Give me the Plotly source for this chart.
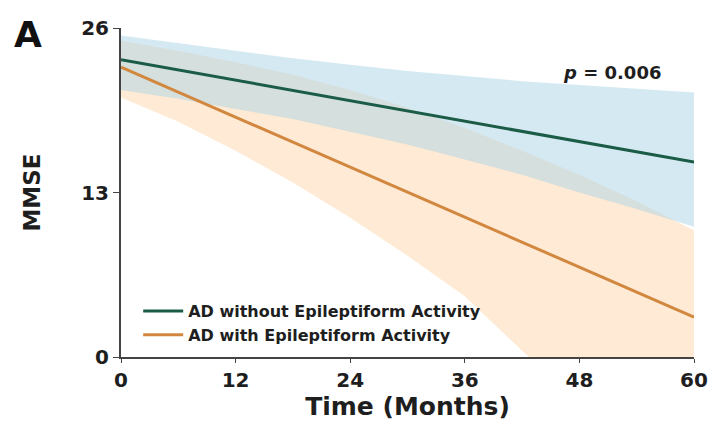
import plotly.graph_objects as go

band_months = [0, 6, 12, 18, 24, 30, 36, 42, 48, 54, 60]
line_months = [0, 60]
x_ticks = [0, 12, 24, 36, 48, 60]
y_ticks = [0, 13, 26]

no_epi_mean = [23.5, 15.4]
no_epi_upper = [25.4, 24.8, 24.2, 23.6, 23.1, 22.6, 22.2, 21.8, 21.5, 21.2, 20.9]
no_epi_lower = [21.1, 20.4, 19.6, 18.8, 17.8, 16.8, 15.6, 14.4, 13.0, 11.7, 10.3]

epi_mean = [22.9, 3.15]
epi_upper = [25.0, 24.2, 23.3, 22.3, 21.1, 19.7, 18.1, 16.3, 14.4, 12.3, 10.0]
epi_lower = [20.5, 18.6, 16.3, 13.8, 11.0, 8.0, 4.8, 0.5, -3.5, -7.5, -12.0]

names = ["AD without Epileptiform Activity", "AD with Epileptiform Activity"]

FONT = "DejaVu Sans, Arial, sans-serif"
TXT = "#1e1e1e"

fig = go.Figure()

# confidence bands
fig.add_trace(go.Scatter(x=band_months, y=epi_lower, mode="lines", line=dict(width=0),
                         showlegend=False, hoverinfo="skip"))
fig.add_trace(go.Scatter(x=band_months, y=epi_upper, mode="lines", line=dict(width=0),
                         fill="tonexty", fillcolor="rgba(253,214,172,0.5)",
                         showlegend=False, hoverinfo="skip"))
fig.add_trace(go.Scatter(x=band_months, y=no_epi_lower, mode="lines", line=dict(width=0),
                         showlegend=False, hoverinfo="skip"))
fig.add_trace(go.Scatter(x=band_months, y=no_epi_upper, mode="lines", line=dict(width=0),
                         fill="tonexty", fillcolor="rgba(172,212,230,0.5)",
                         showlegend=False, hoverinfo="skip"))

# mean lines
fig.add_trace(go.Scatter(x=line_months, y=no_epi_mean, mode="lines", name=names[0],
                         legendgroup="g1",
                         line=dict(color="#1b5c46", width=3)))
fig.add_trace(go.Scatter(x=line_months, y=epi_mean, mode="lines", name=names[1],
                         legendgroup="g2",
                         line=dict(color="#d2873f", width=3)))

fig.update_layout(
    width=724, height=421,
    margin=dict(l=121, r=30, t=28, b=64),
    paper_bgcolor="white", plot_bgcolor="white",
    font=dict(family=FONT, color=TXT),
    showlegend=True,
    legend=dict(x=0.03, y=0.015, xanchor="left", yanchor="bottom",
                traceorder="normal", tracegroupgap=13,
                bgcolor="rgba(0,0,0,0)", itemwidth=40,
                font=dict(family=FONT, size=16, weight="bold", color=TXT)),
    xaxis=dict(range=[0, 60], tickvals=x_ticks, showgrid=False, zeroline=False,
               showline=True, linecolor="#444444", linewidth=2, automargin=False,
               ticks="outside", ticklen=4, tickcolor="#444444",
               tickfont=dict(family=FONT, size=20, weight="bold", color=TXT),
               title=dict(text="Time (Months)", standoff=4,
                          font=dict(family=FONT, size=25, weight="bold", color=TXT))),
    yaxis=dict(range=[0, 26], tickvals=y_ticks, showgrid=False, zeroline=False,
               showline=True, linecolor="#444444", linewidth=2, automargin=False,
               ticks="outside", ticklen=6, tickcolor="#444444",
               tickfont=dict(family=FONT, size=20, weight="bold", color=TXT),
               title=dict(text="MMSE", standoff=34,
                          font=dict(family=FONT, size=23, weight="bold", color=TXT))),
)

fig.add_annotation(text="A", xref="paper", yref="paper", x=-0.19, y=0.979,
                   xanchor="left", yanchor="middle", showarrow=False,
                   font=dict(family=FONT, size=36, weight="bold", color="#111111"))
fig.add_annotation(text="<i>p</i> = 0.006", xref="paper", yref="paper", x=0.946, y=0.866,
                   xanchor="right", yanchor="middle", showarrow=False,
                   font=dict(family=FONT, size=18, weight="bold", color=TXT))

fig.write_html("out.html")
